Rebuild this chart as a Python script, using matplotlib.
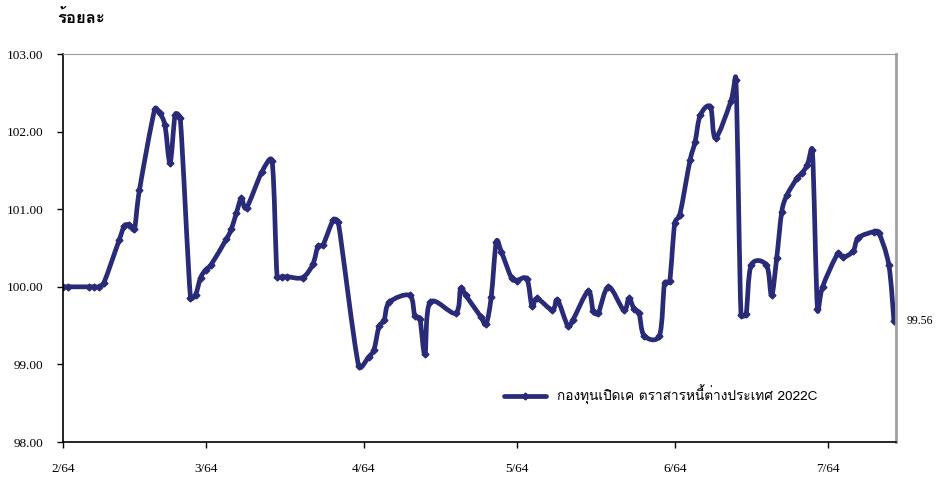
import matplotlib
matplotlib.use("Agg")
import matplotlib.pyplot as plt
import matplotlib.dates as mdates
import matplotlib.font_manager as fm
from matplotlib.ft2font import FT2Font
from matplotlib.path import Path
from matplotlib.patches import PathPatch
from matplotlib.lines import Line2D
import numpy as np
import pandas as pd

# NAV ของกองทุน (ร้อยละ) อ่านค่าจากกราฟ
dates = [
    "2021-02-01", "2021-02-02", "2021-02-06", "2021-02-07", "2021-02-08", "2021-02-09",
    "2021-02-12", "2021-02-13", "2021-02-14", "2021-02-15", "2021-02-16", "2021-02-19",
    "2021-02-20", "2021-02-21", "2021-02-22", "2021-02-23", "2021-02-24", "2021-02-26",
    "2021-02-27", "2021-02-28", "2021-03-01", "2021-03-02", "2021-03-05", "2021-03-06",
    "2021-03-07", "2021-03-08", "2021-03-09", "2021-03-12", "2021-03-14", "2021-03-15",
    "2021-03-16", "2021-03-17", "2021-03-20", "2021-03-22", "2021-03-23", "2021-03-24",
    "2021-03-26", "2021-03-27", "2021-03-31", "2021-04-02", "2021-04-03", "2021-04-04",
    "2021-04-05", "2021-04-06", "2021-04-10", "2021-04-11", "2021-04-12", "2021-04-13",
    "2021-04-14", "2021-04-19", "2021-04-20", "2021-04-21", "2021-04-24", "2021-04-25",
    "2021-04-26", "2021-04-27", "2021-04-28", "2021-04-30", "2021-05-01", "2021-05-03",
    "2021-05-04", "2021-05-05", "2021-05-08", "2021-05-09", "2021-05-11", "2021-05-12",
    "2021-05-15", "2021-05-16", "2021-05-17", "2021-05-19", "2021-05-22", "2021-05-23",
    "2021-05-24", "2021-05-25", "2021-05-26", "2021-05-29", "2021-05-30", "2021-05-31",
    "2021-06-01", "2021-06-02", "2021-06-04", "2021-06-05", "2021-06-06", "2021-06-08",
    "2021-06-09", "2021-06-12", "2021-06-13", "2021-06-14", "2021-06-15", "2021-06-16",
    "2021-06-19", "2021-06-20", "2021-06-21", "2021-06-22", "2021-06-23",
    "2021-06-25", "2021-06-26", "2021-06-27", "2021-06-28", "2021-06-29", "2021-06-30",
    "2021-07-03", "2021-07-04", "2021-07-06", "2021-07-07", "2021-07-10", "2021-07-11",
    "2021-07-13", "2021-07-14",
]
nav = [
    100.00, 100.00, 100.00, 100.00, 100.00, 100.05,
    100.60, 100.78, 100.80, 100.74, 101.25, 102.29,
    102.24, 102.08, 101.60, 102.22, 102.17, 99.86,
    99.90, 100.12, 100.22, 100.28, 100.61, 100.74,
    100.95, 101.14, 101.02, 101.48, 101.62, 100.13,
    100.13, 100.13, 100.12, 100.29, 100.52, 100.54,
    100.86, 100.83, 98.98, 99.10, 99.19, 99.49,
    99.57, 99.80, 99.89, 99.63, 99.59, 99.13,
    99.80, 99.66, 99.98, 99.89, 99.61, 99.52,
    99.87, 100.58, 100.45, 100.11, 100.08, 100.10,
    99.75, 99.85, 99.70, 99.83, 99.50, 99.57,
    99.94, 99.69, 99.66, 100.00, 99.70, 99.85,
    99.72, 99.66, 99.37, 99.37, 100.05, 100.07,
    100.82, 100.93, 101.63, 101.87, 102.21, 102.32,
    101.92, 102.39, 102.67, 99.64, 99.65, 100.28,
    100.28, 99.89, 100.37, 100.97, 101.18,
    101.40, 101.47, 101.57, 101.76, 99.72, 100.00,
    100.43, 100.38, 100.46, 100.63, 100.71, 100.70,
    100.28, 99.56,
]
series_name = "กองทุนเปิดเค ตราสารหนี้ต่างประเทศ 2022C"
y_label = "ร้อยละ"
y_ticks = [98, 99, 100, 101, 102, 103]


# หา font ที่มีอักษรไทย
def thai_font():
    for f in fm.fontManager.ttflist:
        try:
            if 0x0E01 in FT2Font(f.fname).get_charmap():
                return f.name
        except Exception:
            pass
    return "DejaVu Sans"


# เส้นโค้งแบบ smoothed line ของ Excel (Bezier ผ่านทุกจุด, จำกัดความยาว handle
# ไม่เกินครึ่งช่วง)  sx, sy = สเกลโดยประมาณของจอ (px ต่อวัน, px ต่อหน่วย)
def smooth_path(xs, ys, sx=5.1, sy=77.6):
    p = np.column_stack([np.asarray(xs) * sx, np.asarray(ys) * sy])
    verts = [p[0]]
    codes = [Path.MOVETO]
    n = len(p)
    for i in range(n - 1):
        p0 = p[i - 1] if i > 0 else p[i]
        p3 = p[i + 2] if i + 2 < n else p[i + 1]
        seg = np.hypot(*(p[i + 1] - p[i]))
        v1 = (p[i + 1] - p0) / 6.0
        v2 = (p3 - p[i]) / 6.0
        for v in (v1, v2):
            l = np.hypot(*v)
            if l > seg / 2 and l > 0:
                v *= (seg / 2) / l
        verts += [p[i] + v1, p[i + 1] - v2, p[i + 1]]
        codes += [Path.CURVE4] * 3
    verts = np.array(verts) / [sx, sy]
    return Path(verts, codes)


thai = thai_font()
serif = ["Liberation Serif", "DejaVu Serif"]
navy = "#292A78"

x = pd.to_datetime(dates)
xn = mdates.date2num(x)

fig = plt.figure(figsize=(9.45, 4.79), dpi=100)
ax = fig.add_axes([0.0667, 0.0772, 0.8815, 0.8100])

ax.add_patch(PathPatch(smooth_path(xn, nav), fill=False, edgecolor=navy, lw=3.4,
                       joinstyle="round", capstyle="round"))
ax.plot(x, nav, ls="none", marker="D", ms=3.5, mec=navy, mfc=navy)

ax.set_ylim(98, 103)
ax.set_yticks(y_ticks)
ax.yaxis.set_major_formatter(matplotlib.ticker.FormatStrFormatter("%.2f"))
ax.set_xlim(pd.Timestamp("2021-02-01"), pd.Timestamp("2021-07-14 10:00"))
ax.xaxis.set_major_locator(mdates.MonthLocator())
ax.xaxis.set_major_formatter(matplotlib.ticker.FuncFormatter(
    lambda v, p: "%d/%02d" % (mdates.num2date(v).month, (mdates.num2date(v).year + 543) % 100)))

for lab in ax.get_xticklabels() + ax.get_yticklabels():
    lab.set_family(serif)
    lab.set_fontsize(9.5)
ax.tick_params(axis="y", direction="out", length=4.5, width=1, pad=9.5)
ax.tick_params(axis="x", direction="out", length=4.5, width=1, pad=10.5)

ax.spines["left"].set_color("black")
ax.spines["bottom"].set_color("black")
ax.spines["left"].set_linewidth(1.2)
ax.spines["bottom"].set_linewidth(1.2)
ax.spines["top"].set_color("#9a9a9a")
ax.spines["right"].set_color("#a0a0a0")
ax.spines["right"].set_linewidth(2)

ax.annotate("%.2f" % nav[-1], (x[-1], nav[-1]), xytext=(9, 0), textcoords="offset points",
            va="center", ha="left", family=serif, fontsize=8.5)

handle = Line2D([], [], color=navy, lw=3.4, marker="D", ms=3.5, solid_capstyle="round")
ax.legend([handle], [series_name], loc="center left", bbox_to_anchor=(0.515, 0.121),
          frameon=False, handlelength=3.1, handletextpad=0.75,
          prop={"family": [thai, "DejaVu Sans"], "size": 9.8})

fig.text(0.061, 0.963, y_label, family=[thai, "DejaVu Sans"], fontsize=12, weight="bold",
         ha="left", va="center")

fig.savefig("out.png", dpi=100)
